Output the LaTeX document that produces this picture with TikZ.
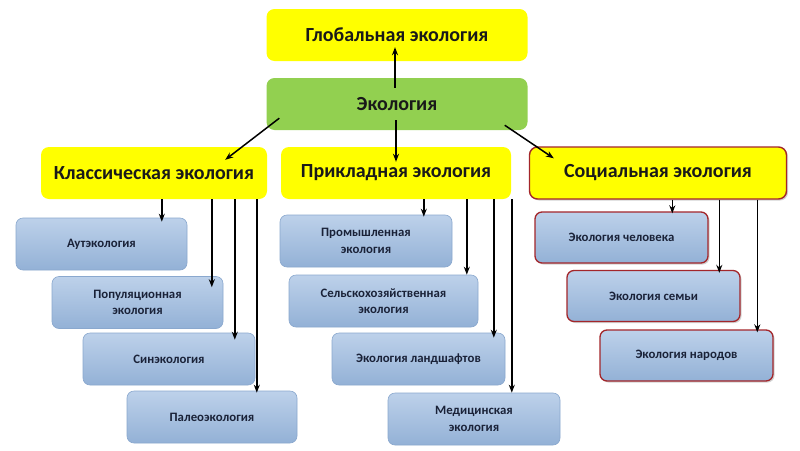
\documentclass[tikz,border=0pt]{standalone}
\usepackage{fontspec}
\setmainfont{Carlito}
\usetikzlibrary{arrows.meta,shadows}
\definecolor{yel}{HTML}{FFFF00}
\definecolor{grn}{HTML}{92D050}
\definecolor{bluetop}{HTML}{BDD1EA}
\definecolor{bluebot}{HTML}{93B1D6}
\definecolor{blueline}{HTML}{8AA8CE}
\definecolor{redline}{HTML}{A3262A}
\definecolor{navytext}{HTML}{1A2238}
\tikzset{
  bigbox/.style={rounded corners=8pt, fill=yel, draw=none, font=\fontsize{20}{22}\selectfont\bfseries, text=black!90, minimum height=52pt, inner sep=0pt, align=center},
  ecobox/.style={bigbox, fill=grn},
  socbox/.style={bigbox, draw=redline, line width=1.4pt, drop shadow={shadow xshift=1.5pt, shadow yshift=-1.5pt, opacity=0.35}},
  smallbox/.style={rounded corners=7pt, top color=bluetop, bottom color=bluebot, draw=blueline, line width=0.6pt, font=\fontsize{12.8}{16.5}\selectfont\bfseries, text=navytext, minimum height=52pt, minimum width=172pt, inner sep=0pt, align=center},
  redbox/.style={smallbox, draw=redline, line width=1.3pt, minimum height=51pt, drop shadow={shadow xshift=1.5pt, shadow yshift=-1.5pt, opacity=0.35}},
  arr/.style={-{Stealth[length=8pt,width=6pt]}, line width=1.5pt, black}
}
\begin{document}
\begin{tikzpicture}[x=1pt,y=-1pt]
\useasboundingbox[fill=white] (0,0) rectangle (800,450);
% top level
\node[bigbox, minimum width=261pt] (glob) at (397,35) {Глобальная экология};
\node[ecobox, minimum width=261pt] (eco) at (397,104) {Экология};
\node[bigbox, minimum width=226pt] (klass) at (154,173) {Классическая экология};
\node[bigbox, minimum width=230pt] (prikl) at (396,173) {Прикладная экология};
\node[socbox, minimum width=257pt] (soc) at (658,173) {Социальная экология};
% classical children
\node[smallbox, minimum width=171pt] (aut) at (101.5,244) {Аутэкология};
\node[smallbox, minimum width=171pt] (pop) at (137.5,302.5) {Популяционная\\экология};
\node[smallbox] (sin) at (169,359) {Синэкология};
\node[smallbox, minimum width=170pt] (pal) at (212,417) {Палеоэкология};
% applied children
\node[smallbox] (prom) at (366,241) {Промышленная\\экология};
\node[smallbox, minimum width=189pt] (sel) at (383.5,301) {Сельскохозяйственная\\экология};
\node[smallbox, minimum width=173pt] (land) at (418.5,359) {Экология ландшафтов};
\node[smallbox] (med) at (474,419) {Медицинская\\экология};
% social children
\node[redbox, minimum width=173pt] (hum) at (621.5,237.5) {Экология человека};
\node[redbox, minimum width=173pt] (fam) at (653.5,296) {Экология семьи};
\node[redbox, minimum width=173pt] (nar) at (686.5,355.5) {Экология народов};
% arrows from Экология
\draw[arr] ([xshift=-2pt,yshift=-10pt]eco.north) -- ([xshift=-2pt,yshift=14pt]glob.south);
\draw[arr] ([xshift=-1pt,yshift=10pt]eco.south) -- ([yshift=-15pt]prikl.north);
\draw[arr] ([xshift=13pt,yshift=12pt]eco.south west) -- ([xshift=-42pt,yshift=-13pt]klass.north east);
\draw[arr] ([xshift=-23pt,yshift=5pt]eco.south east) -- ([xshift=25pt,yshift=-12pt]soc.north west);
% classical arrows
\draw[arr] ([xshift=121pt]klass.south west) -- ([xshift=121pt,yshift=-4pt]klass.south west |- aut.north);
\draw[arr] ([xshift=171pt]klass.south west) -- ([xshift=171pt,yshift=-11pt]klass.south west |- pop.north);
\draw[arr] ([xshift=194pt]klass.south west) -- ([xshift=194pt,yshift=-7pt]klass.south west |- sin.north);
\draw[arr] ([xshift=216pt]klass.south west) -- ([xshift=216pt,yshift=-2pt]klass.south west |- pal.north);
% applied arrows
\draw[arr] ([xshift=143pt]prikl.south west) -- ([xshift=143pt,yshift=-2pt]prikl.south west |- prom.north);
\draw[arr] ([xshift=186pt]prikl.south west) -- ([xshift=186pt]prikl.south west |- sel.north);
\draw[arr] ([xshift=213pt]prikl.south west) -- ([xshift=213pt,yshift=-5pt]prikl.south west |- land.north);
\draw[arr] ([xshift=231pt]prikl.south west) -- ([xshift=231pt]prikl.south west |- med.north);
% social arrows
\draw[arr] ([xshift=143.5pt]soc.south west) -- ([xshift=143.5pt,yshift=-2pt]soc.south west |- hum.north);
\draw[arr] ([xshift=190.5pt]soc.south west) -- ([xshift=190.5pt,yshift=-3pt]soc.south west |- fam.north);
\draw[arr] ([xshift=228.5pt]soc.south west) -- ([xshift=228.5pt,yshift=-3pt]soc.south west |- nar.north);
\end{tikzpicture}
\end{document}
